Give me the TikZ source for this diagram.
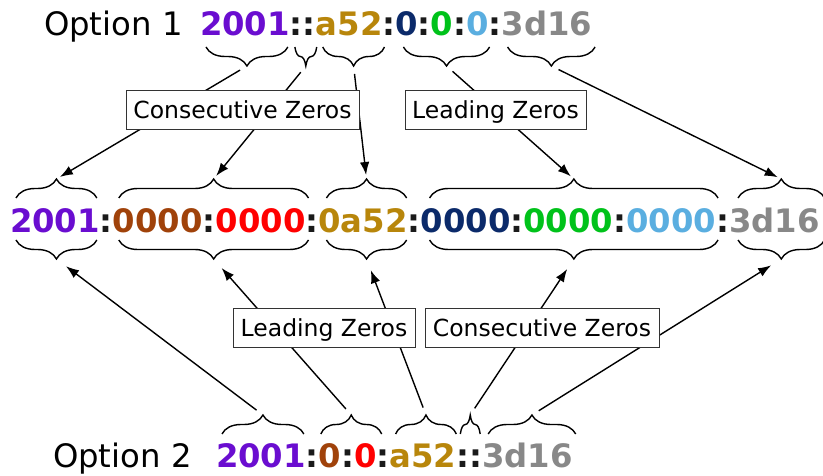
\documentclass[tikz,border=0pt]{standalone}
\usepackage{fontspec}
\setmainfont{DejaVu Sans}
\usetikzlibrary{decorations.pathreplacing,arrows.meta,calc}

\definecolor{cPurple}{HTML}{6A0DD0}
\definecolor{cBrown}{HTML}{A0420A}
\definecolor{cRed}{HTML}{FF0000}
\definecolor{cGold}{HTML}{B8860B}
\definecolor{cNavy}{HTML}{0B2A6A}
\definecolor{cGreen}{HTML}{00C21A}
\definecolor{cSky}{HTML}{5AAEE0}
\definecolor{cGray}{HTML}{888888}
\definecolor{cColon}{HTML}{1A1A1A}

% brace from a left to a right end point, with its tip above / below;
% #1 names the tip
\newcommand{\upbrace}[3]{%
  \draw[brcup] (#2) -- (#3);
  \coordinate (#1) at ($(#2)!0.5!(#3)+(0,-19)$);}
\newcommand{\downbrace}[3]{%
  \draw[brcdown] (#2) -- (#3);
  \coordinate (#1) at ($(#2)!0.5!(#3)+(0,19)$);}

\begin{document}
\begin{tikzpicture}[x=1pt,y=-1pt,
  seg/.style={inner sep=0pt, outer sep=0pt, anchor=base west,
    font=\fontsize{32.3}{38}\selectfont\bfseries},
  caption/.style={inner sep=0pt, outer sep=0pt, anchor=base west,
    font=\fontsize{32.3}{38}\selectfont},
  tag/.style={draw=black!80, line width=1pt, fill=white, inner sep=0pt,
    minimum height=39pt, text height=17pt, text depth=0pt,
    font=\fontsize{23.5}{28}\selectfont},
  brcup/.style={decorate, decoration={brace, amplitude=19pt}, line width=1.4pt},
  brcdown/.style={decorate, decoration={brace, mirror, amplitude=19pt}, line width=1.4pt},
  link/.style={line width=1.4pt, -{Latex[length=13pt,width=9.5pt]}},
]
\useasboundingbox (0,0) rectangle (823,476);

% ---------- Option 1: compressed form ----------
\node[caption] (opt1) at (44,36) {Option 1};
\node[seg, text=cPurple] (t1) at (200,36) {2001};
\node[seg, text=cColon]  (tc1) at (t1.base east) {::};
\node[seg, text=cGold]   (t2) at (tc1.base east) {a52};
\node[seg, text=cColon]  (tc2) at (t2.base east) {:};
\node[seg, text=cNavy]   (t3) at (tc2.base east) {0};
\node[seg, text=cColon]  (tc3) at (t3.base east) {:};
\node[seg, text=cGreen]  (t4) at (tc3.base east) {0};
\node[seg, text=cColon]  (tc4) at (t4.base east) {:};
\node[seg, text=cSky]    (t5) at (tc4.base east) {0};
\node[seg, text=cColon]  (tc5) at (t5.base east) {:};
\node[seg, text=cGray]   (t6) at (tc5.base east) {3d16};

% ---------- full address ----------
\node[seg, text=cPurple] (m1) at (10,233) {2001};
\node[seg, text=cColon]  (mc1) at (m1.base east) {:};
\node[seg, text=cBrown]  (m2) at (mc1.base east) {0000};
\node[seg, text=cColon]  (mc2) at (m2.base east) {:};
\node[seg, text=cRed]    (m3) at (mc2.base east) {0000};
\node[seg, text=cColon]  (mc3) at (m3.base east) {:};
\node[seg, text=cGold]   (m4) at (mc3.base east) {0a52};
\node[seg, text=cColon]  (mc4) at (m4.base east) {:};
\node[seg, text=cNavy]   (m5) at (mc4.base east) {0000};
\node[seg, text=cColon]  (mc5) at (m5.base east) {:};
\node[seg, text=cGreen]  (m6) at (mc5.base east) {0000};
\node[seg, text=cColon]  (mc6) at (m6.base east) {:};
\node[seg, text=cSky]    (m7) at (mc6.base east) {0000};
\node[seg, text=cColon]  (mc7) at (m7.base east) {:};
\node[seg, text=cGray]   (m8) at (mc7.base east) {3d16};

% ---------- Option 2: compressed form ----------
\node[caption] (opt2) at (53,467) {Option 2};
\node[seg, text=cPurple] (b1) at (216,467) {2001};
\node[seg, text=cColon]  (bc1) at (b1.base east) {:};
\node[seg, text=cBrown]  (b2) at (bc1.base east) {0};
\node[seg, text=cColon]  (bc2) at (b2.base east) {:};
\node[seg, text=cRed]    (b3) at (bc2.base east) {0};
\node[seg, text=cColon]  (bc3) at (b3.base east) {:};
\node[seg, text=cGold]   (b4) at (bc3.base east) {a52};
\node[seg, text=cColon]  (bc4) at (b4.base east) {::};
\node[seg, text=cGray]   (b5) at (bc4.base east) {3d16};

% ---------- braces under Option 1 ----------
\coordinate (tL1) at ($(t1.base west)+(6,11)$);  \coordinate (tR1) at ($(t1.base east)+(-2,11)$);
\coordinate (tL2) at ($(tc1.base west)+(5,11)$); \coordinate (tR2) at ($(tc1.base east)+(1,11)$);
\coordinate (tL3) at ($(t2.base west)+(7,11)$);  \coordinate (tR3) at ($(t2.base east)+(2,11)$);
\coordinate (tL4) at ($(t3.base west)+(8,11)$);  \coordinate (tR4) at ($(t5.base east)+(1,11)$);
\coordinate (tL5) at ($(t6.base west)+(6,11)$);  \coordinate (tR5) at ($(t6.base east)+(3,11)$);
\downbrace{T1}{tL1}{tR1}
\downbrace{T2}{tL2}{tR2}
\downbrace{T3}{tL3}{tR3}
\downbrace{T4}{tL4}{tR4}
\downbrace{T5}{tL5}{tR5}

% ---------- braces above and below the full address ----------
\coordinate (uL1) at ($(m1.base west)+(6,-35)$);  \coordinate (uR1) at ($(m1.base east)+(-3,-35)$);
\coordinate (uL2) at ($(m2.base west)+(6,-35)$);  \coordinate (uR2) at ($(m3.base east)+(3,-35)$);
\coordinate (uL3) at ($(m4.base west)+(8,-35)$);  \coordinate (uR3) at ($(m4.base east)+(-1,-35)$);
\coordinate (uL4) at ($(m5.base west)+(9,-35)$);  \coordinate (uR4) at ($(m7.base east)+(2,-35)$);
\coordinate (uL5) at ($(m8.base west)+(9,-35)$);  \coordinate (uR5) at ($(m8.base east)+(5,-35)$);
\upbrace{U1}{uL1}{uR1}
\upbrace{U2}{uL2}{uR2}
\upbrace{U3}{uL3}{uR3}
\upbrace{U4}{uL4}{uR4}
\upbrace{U5}{uL5}{uR5}

\coordinate (lL1) at ($(m1.base west)+(6,7)$);  \coordinate (lR1) at ($(m1.base east)+(-3,7)$);
\coordinate (lL2) at ($(m2.base west)+(6,7)$);  \coordinate (lR2) at ($(m3.base east)+(3,7)$);
\coordinate (lL3) at ($(m4.base west)+(8,7)$);  \coordinate (lR3) at ($(m4.base east)+(-1,7)$);
\coordinate (lL4) at ($(m5.base west)+(9,7)$);  \coordinate (lR4) at ($(m7.base east)+(2,7)$);
\coordinate (lL5) at ($(m8.base west)+(9,7)$);  \coordinate (lR5) at ($(m8.base east)+(5,7)$);
\downbrace{L1}{lL1}{lR1}
\downbrace{L2}{lL2}{lR2}
\downbrace{L3}{lL3}{lR3}
\downbrace{L4}{lL4}{lR4}
\downbrace{L5}{lL5}{lR5}

% ---------- braces above Option 2 ----------
\coordinate (bL1) at ($(b1.base west)+(6,-33)$);  \coordinate (bR1) at ($(b1.base east)+(-2,-33)$);
\coordinate (bL2) at ($(b2.base west)+(2,-33)$);  \coordinate (bR2) at ($(b3.base east)+(5,-33)$);
\coordinate (bL3) at ($(b4.base west)+(6,-33)$);  \coordinate (bR3) at ($(b4.base east)+(0,-33)$);
\coordinate (bL4) at ($(bc4.base west)+(4,-33)$); \coordinate (bR4) at ($(bc4.base east)+(-2,-33)$);
\coordinate (bL5) at ($(b5.base west)+(6,-33)$);  \coordinate (bR5) at ($(b5.base east)+(3,-33)$);
\upbrace{B1}{bL1}{bR1}
\upbrace{B2}{bL2}{bR2}
\upbrace{B3}{bL3}{bR3}
\upbrace{B4}{bL4}{bR4}
\upbrace{B5}{bL5}{bR5}

% ---------- connectors ----------
\foreach \i in {1,...,5} {
  \draw[link, shorten <=8pt, shorten >=4pt] (T\i) -- (U\i);
  \draw[link, shorten <=8pt, shorten >=12pt] (B\i) -- (L\i);
}

% ---------- labels over the connectors ----------
\node[tag, minimum width=233pt] (cz1) at (242.5,110.5) {Consecutive Zeros};
\node[tag, minimum width=181pt] (lz1) at (495.5,110.5) {Leading Zeros};
\node[tag, minimum width=182pt] (lz2) at (324,327.5) {Leading Zeros};
\node[tag, minimum width=234pt] (cz2) at (542,327.5) {Consecutive Zeros};
\end{tikzpicture}
\end{document}
